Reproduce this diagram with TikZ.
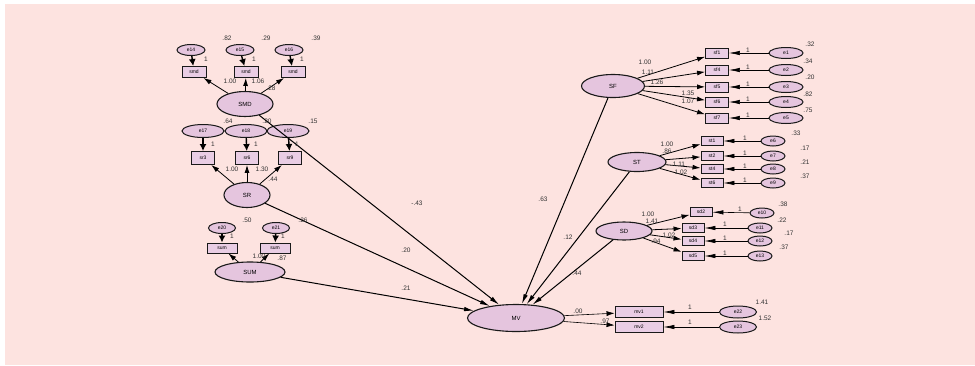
\documentclass[tikz,border=0pt]{standalone}
\usepackage{fontspec}
\setmainfont{Liberation Sans}
\usetikzlibrary{positioning,shapes.geometric,arrows.meta}

\definecolor{bgpink}{RGB}{253,227,224}
\definecolor{latfill}{RGB}{229,197,222}
\definecolor{obsfill}{RGB}{233,205,228}

\tikzset{
  latent/.style={ellipse, draw=black!90, line width=1.1pt, fill=latfill, inner sep=0pt, font=\fontsize{6}{6}\selectfont},
  errvar/.style={ellipse, draw=black!90, line width=1pt, fill=latfill, inner sep=0pt, font=\fontsize{5}{5}\selectfont},
  obsvar/.style={rectangle, draw=black!90, line width=0.9pt, fill=obsfill, inner sep=0pt, font=\fontsize{5}{5}\selectfont},
  regpath/.style={-{Latex[length=10pt,width=4.5pt]}, line width=1pt},
  loadpath/.style={-{Latex[length=8pt,width=5pt]}, line width=0.8pt},
  errdown/.style={-{Latex[length=7pt,width=7pt]}, line width=1.4pt},
  errside/.style={-{Latex[length=11pt,width=4.5pt]}, line width=0.6pt},
  est/.style={font=\fontsize{6.5}{6.5}\selectfont, inner sep=0pt, text=black!80},
}

\begin{document}
\begin{tikzpicture}[x=1pt, y=-1pt,
    eL/.style={errvar, minimum width=28pt, minimum height=11pt},
    eM/.style={errvar, minimum width=42pt, minimum height=13pt},
    eS/.style={errvar, minimum width=27pt, minimum height=11pt},
    eR/.style={errvar, minimum width=34pt, minimum height=11pt},
    eT/.style={errvar, minimum width=24pt, minimum height=10pt},
    bx/.style={obsvar, minimum width=23pt, minimum height=10pt},
    bxs/.style={obsvar, minimum width=22pt, minimum height=9pt}]
  \useasboundingbox (0,0) rectangle (975,365);
  \fill[white] (0,0) rectangle (975,365);
  \fill[bgpink] (5,4) rectangle (975,365);

  % SMD block
  \node[eL] (e14) at (191,50) {e14};
  \node[eL] (e15) at (240,50) {e15};
  \node[eL] (e16) at (289,50) {e16};
  \node[bx, minimum width=24pt, minimum height=11pt] (smd1) at (194,72) {smd};
  \node[bx, minimum width=24pt, minimum height=11pt] (smd2) at (246,72) {smd};
  \node[bx, minimum width=24pt, minimum height=11pt] (smd3) at (293,72) {smd};
  \node[latent, minimum width=56pt, minimum height=25pt] (SMD) at (245,104) {SMD};

  % SR block
  \node[eM] (e17) at (203,131) {e17};
  \node[eM] (e18) at (246,131) {e18};
  \node[eM] (e19) at (288,131) {e19};
  \node[bx, minimum height=13pt] (sr3) at (203,158) {sr3};
  \node[bx, minimum height=13pt] (sr6) at (247,158) {sr6};
  \node[bx, minimum height=13pt] (sr9) at (290,158) {sr9};
  \node[latent, minimum width=46pt, minimum height=25pt] (SR) at (247,195) {SR};

  % SUM block
  \node[eS] (e20) at (222,228) {e20};
  \node[eS] (e21) at (276,228) {e21};
  \node[bx, minimum width=30pt] (sum1) at (222,248) {sum};
  \node[bx, minimum width=30pt] (sum2) at (275,248) {sum};
  \node[latent, minimum width=70pt, minimum height=20pt] (SUM) at (250,272) {SUM};

  % outcome
  \node[latent, minimum width=97pt, minimum height=27pt] (MV) at (516,318) {MV};
  \node[obsvar, minimum width=48pt, minimum height=11pt] (mv1) at (639,312) {mv1};
  \node[obsvar, minimum width=48pt, minimum height=11pt] (mv2) at (639,327) {mv2};
  \node[errvar, minimum width=37pt, minimum height=12pt] (e22) at (738,312) {e22};
  \node[errvar, minimum width=37pt, minimum height=12pt] (e23) at (738,327) {e23};

  % SF block
  \node[latent, minimum width=63pt, minimum height=23pt] (SF) at (613,86) {SF};
  \node[bx] (sf1) at (717,53) {sf1};
  \node[bx] (sf4) at (717,70) {sf4};
  \node[bx] (sf5) at (717,87) {sf5};
  \node[bx] (sf6) at (717,102) {sf6};
  \node[bx] (sf7) at (717,118) {sf7};
  \node[eR] (e1) at (786,53) {e1};
  \node[eR] (e2) at (786,70) {e2};
  \node[eR] (e3) at (786,87) {e3};
  \node[eR] (e4) at (786,102) {e4};
  \node[eR] (e5) at (786,118) {e5};

  % ST block
  \node[latent, minimum width=58pt, minimum height=19pt] (ST) at (637,162) {ST};
  \node[bxs] (st1) at (712,141) {st1};
  \node[bxs] (st2) at (712,156) {st2};
  \node[bxs] (st4) at (712,169) {st4};
  \node[bxs] (st6) at (712,183) {st6};
  \node[eT] (e6) at (773,141) {e6};
  \node[eT] (e7) at (773,156) {e7};
  \node[eT] (e8) at (773,169) {e8};
  \node[eT] (e9) at (773,183) {e9};

  % SD block
  \node[latent, minimum width=56pt, minimum height=18pt] (SD) at (624,231) {SD};
  \node[bxs] (sd2) at (701,212) {sd2};
  \node[bxs] (sd3) at (693,228) {sd3};
  \node[bxs] (sd4) at (693,241) {sd4};
  \node[bxs] (sd5) at (693,256) {sd5};
  \node[eT] (e10) at (762,213) {e10};
  \node[eT] (e11) at (760,228) {e11};
  \node[eT] (e12) at (760,241) {e12};
  \node[eT] (e13) at (760,256) {e13};

  % measurement paths, left
  \draw[errdown] (e14) -- (smd1);
  \draw[errdown] (e15) -- (smd2);
  \draw[errdown] (e16) -- (smd3);
  \draw[loadpath] (SMD) -- (smd1);
  \draw[loadpath] (SMD) -- (smd2);
  \draw[loadpath] (SMD) -- (smd3);
  \draw[errdown] (e17) -- (sr3);
  \draw[errdown] (e18) -- (sr6);
  \draw[errdown] (e19) -- (sr9);
  \draw[loadpath] (SR) -- (sr3);
  \draw[loadpath] (SR) -- (sr6);
  \draw[loadpath] (SR) -- (sr9);
  \draw[errdown] (e20) -- (sum1);
  \draw[errdown] (e21) -- (sum2);
  \draw[loadpath] (SUM) -- (sum1);
  \draw[loadpath] (SUM) -- (sum2);

  % measurement paths, right
  \draw[loadpath] (SF) -- (sf1);
  \draw[loadpath] (SF) -- (sf4);
  \draw[loadpath] (SF) -- (sf5);
  \draw[loadpath] (SF) -- (sf6);
  \draw[loadpath] (SF) -- (sf7);
  \draw[errside] (e1) -- (sf1);
  \draw[errside] (e2) -- (sf4);
  \draw[errside] (e3) -- (sf5);
  \draw[errside] (e4) -- (sf6);
  \draw[errside] (e5) -- (sf7);
  \draw[loadpath] (ST) -- (st1);
  \draw[loadpath] (ST) -- (st2);
  \draw[loadpath] (ST) -- (st4);
  \draw[loadpath] (ST) -- (st6);
  \draw[errside] (e6) -- (st1);
  \draw[errside] (e7) -- (st2);
  \draw[errside] (e8) -- (st4);
  \draw[errside] (e9) -- (st6);
  \draw[loadpath] (SD) -- (sd2);
  \draw[loadpath] (SD) -- (sd3);
  \draw[loadpath] (SD) -- (sd4);
  \draw[loadpath] (SD) -- (sd5);
  \draw[errside] (e10) -- (sd2);
  \draw[errside] (e11) -- (sd3);
  \draw[errside] (e12) -- (sd4);
  \draw[errside] (e13) -- (sd5);
  \draw[loadpath, line width=0.6pt] (MV) -- (mv1);
  \draw[loadpath, line width=0.6pt] (MV) -- (mv2);
  \draw[errside] (e22) -- (mv1);
  \draw[errside] (e23) -- (mv2);

  % structural paths
  \draw[regpath] (SMD) -- (MV);
  \draw[regpath] (SR) -- (MV);
  \draw[regpath] (SUM) -- (MV);
  \draw[regpath] (SF) -- (MV);
  \draw[regpath] (ST) -- (MV);
  \draw[regpath] (SD) -- (MV);

  % estimates, left
  \node[est] at (227,38) {.82};
  \node[est] at (266,38) {.29};
  \node[est] at (316,38) {.39};
  \node[est] at (206,59) {1};
  \node[est] at (254,59) {1};
  \node[est] at (302,59) {1};
  \node[est] at (230,81) {1.00};
  \node[est] at (258,81) {1.06};
  \node[est] at (271,88) {.28};
  \node[est] at (228,121) {.64};
  \node[est] at (267,121) {.20};
  \node[est] at (313,121) {.15};
  \node[est] at (213,144) {1};
  \node[est] at (256,144) {1};
  \node[est] at (297,144) {1};
  \node[est] at (232,169) {1.00};
  \node[est] at (262,169) {1.30};
  \node[est] at (273,179) {.44};
  \node[est] at (247,220) {.50};
  \node[est] at (303,220) {.26};
  \node[est] at (232,236) {1};
  \node[est] at (283,236) {1};
  \node[est] at (259,256) {1.00};
  \node[est] at (282,258) {.87};

  % estimates, structural
  \node[est] at (417,203) {-.43};
  \node[est] at (406,250) {.20};
  \node[est] at (406,288) {.21};
  \node[est] at (543,199) {.63};
  \node[est] at (568,237) {.12};
  \node[est] at (577,273) {.44};
  \node[est] at (578,311) {.00};
  \node[est] at (605,321) {.97};
  \node[est] at (690,307) {1};
  \node[est] at (690,322) {1};
  \node[est] at (762,302) {1.41};
  \node[est] at (765,318) {1.52};

  % estimates, right
  \node[est] at (645,62) {1.00};
  \node[est] at (648,72) {1.11};
  \node[est] at (657,82) {1.26};
  \node[est] at (688,93) {1.35};
  \node[est] at (688,101) {1.07};
  \node[est] at (748,50) {1};
  \node[est] at (748,67) {1};
  \node[est] at (748,84) {1};
  \node[est] at (748,99) {1};
  \node[est] at (748,115) {1};
  \node[est] at (810,44) {.32};
  \node[est] at (808,61) {.34};
  \node[est] at (810,77) {.20};
  \node[est] at (808,94) {.82};
  \node[est] at (808,110) {.75};
  \node[est] at (667,144) {1.00};
  \node[est] at (667,151) {.86};
  \node[est] at (679,164) {1.11};
  \node[est] at (681,172) {1.02};
  \node[est] at (745,138) {1};
  \node[est] at (745,153) {1};
  \node[est] at (745,166) {1};
  \node[est] at (745,180) {1};
  \node[est] at (796,133) {.33};
  \node[est] at (805,148) {.17};
  \node[est] at (805,162) {.21};
  \node[est] at (805,176) {.37};
  \node[est] at (648,214) {1.00};
  \node[est] at (652,221) {1.41};
  \node[est] at (669,235) {1.02};
  \node[est] at (656,241) {.94};
  \node[est] at (740,209) {1};
  \node[est] at (725,224) {1};
  \node[est] at (725,238) {1};
  \node[est] at (725,253) {1};
  \node[est] at (783,204) {.38};
  \node[est] at (782,220) {.22};
  \node[est] at (789,233) {.17};
  \node[est] at (784,247) {.37};
\end{tikzpicture}
\end{document}
